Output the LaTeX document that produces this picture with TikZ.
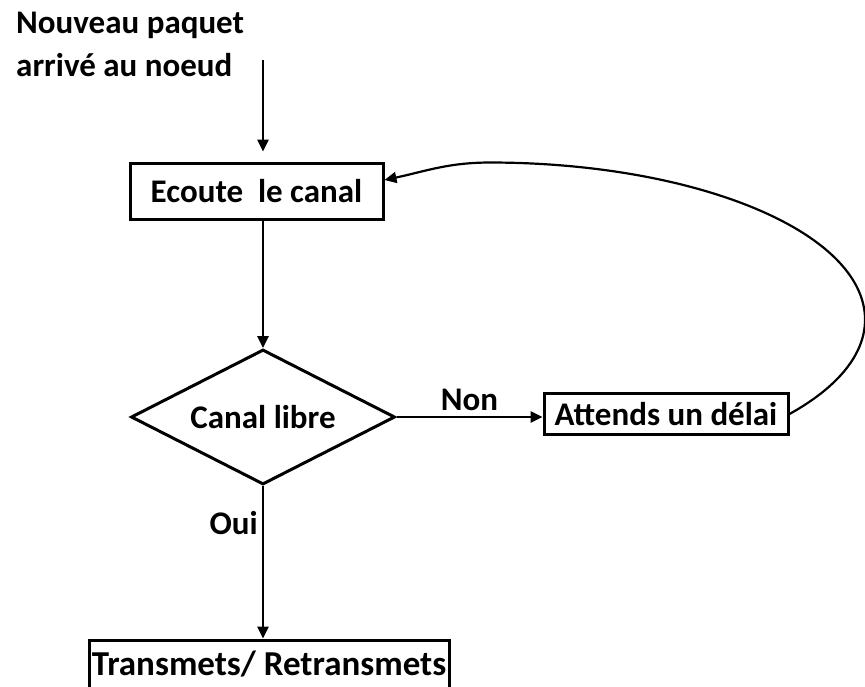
\documentclass[tikz,border=0pt]{standalone}
\usepackage{fontspec}
\setmainfont{Carlito}
\usetikzlibrary{arrows.meta,positioning,shapes.geometric}
\tikzset{>={Triangle[length=12pt,width=11pt]},
  every node/.style={font=\fontsize{33}{43}\selectfont\bfseries},
  flow/.style={->,line width=2.6pt},
  box/.style={draw,line width=3pt,inner sep=0pt},
  choice/.style={draw,diamond,aspect=2,line width=3pt,inner sep=0pt},
  retour/.style={->,line width=2.2pt}}

\begin{document}
\begin{tikzpicture}[x=1pt,y=-1pt]
\clip (0,0) rectangle (865,686);
\node[anchor=north west,align=left,inner sep=0pt] (arrivee) at (16,12) {Nouveau paquet\\arrivé au noeud};
\coordinate (entree) at (263,60);
\node[box,minimum width=253pt,minimum height=56pt] (ecoute) at (256.5,191) {Ecoute\ \ le canal};
\node[choice,minimum width=264pt,minimum height=135pt] (choix) at (263,417) {Canal libre};
\node[box,minimum width=244pt,minimum height=41pt] (attente) at (666,414) {Attends un délai};
\node[box,minimum width=360pt,minimum height=48pt,font=\fontsize{35}{40}\selectfont\bfseries] (envoi) at (269,664) {Transmets/ Retransmets};
% arrivee du paquet puis test du canal
\draw[flow,shorten >=10pt] (entree) -- (entree |- ecoute.north);
\draw[flow] (entree |- ecoute.south) -- (choix.north);
\draw[flow] (choix.east) -- node[above,inner sep=5pt] (non) {Non} (choix.east -| attente.west);
\draw[flow] (choix.south) -- node[left,pos=.24,inner sep=4pt] (oui) {Oui} (choix.south |- envoi.north);
% boucle d'attente vers l'ecoute
\draw[retour] (attente.east) arc[start angle=-37,end angle=90,x radius=375pt,y radius=157pt]
  to[out=180,in=12] ([yshift=11pt]ecoute.east);
\end{tikzpicture}
\end{document}
